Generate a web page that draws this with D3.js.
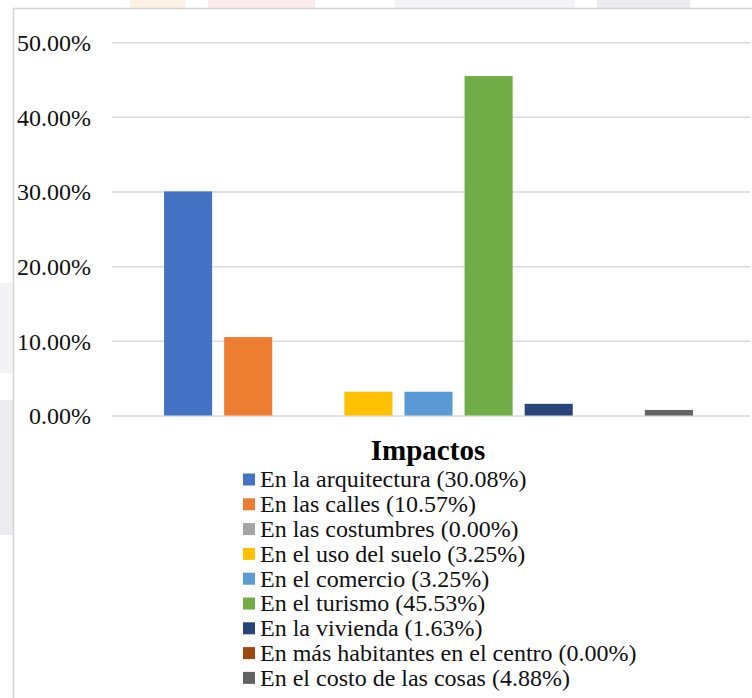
<!DOCTYPE html>
<html>
<head>
<meta charset="utf-8">
<script src="https://cdn.jsdelivr.net/npm/d3@7"></script>
<style>
  body { margin: 0; background: #fff; }
  svg text { font-family: "Liberation Serif", "Times New Roman", Times, "DejaVu Serif", serif; }
</style>
</head>
<body>
<svg width="752" height="698"></svg>
<script>
// categories (one bar per series, as in the source chart)
let categories = [
    "En la arquitectura", "En las calles", "En las costumbres", "En el uso del suelo",
    "En el comercio", "En el turismo", "En la vivienda",
    "En más habitantes en el centro", "En el costo de las cosas"
];
// bar heights (%)
let values = [30.08, 10.57, 0, 3.25, 3.25, 45.53, 1.63, 0, 0.81];
// legend labels as printed
let legendLabels = [
    "En la arquitectura (30.08%)", "En las calles (10.57%)", "En las costumbres (0.00%)",
    "En el uso del suelo (3.25%)", "En el comercio (3.25%)", "En el turismo (45.53%)",
    "En la vivienda (1.63%)", "En más habitantes en el centro (0.00%)",
    "En el costo de las cosas (4.88%)"
];
let colors = ["#4472C4", "#ED7D31", "#A5A5A5", "#FFC000", "#5B9BD5", "#70AD47", "#264478", "#9E480E", "#636363"];
let yTicks = [0, 10, 20, 30, 40, 50];

let serif = "'Liberation Serif', 'Times New Roman', Times, 'DejaVu Serif', serif";
let svg = d3.select("svg");

// faint scan background bits outside the frame
let bg = [
    {x: 130, y: 0, w: 55, h: 8, c: "#fdf1e4"},
    {x: 208, y: 0, w: 107, h: 8, c: "#fbeaec"},
    {x: 395, y: 0, w: 180, h: 8, c: "#f4f4f6"},
    {x: 597, y: 0, w: 93, h: 8, c: "#ebebf0"},
    {x: 0, y: 283, w: 13, h: 90, c: "#f3f3f6"},
    {x: 0, y: 400, w: 13, h: 135, c: "#ececf0"}
];
svg.selectAll(".bg").data(bg).enter().append("rect")
    .attr("x", d => d.x).attr("y", d => d.y)
    .attr("width", d => d.w).attr("height", d => d.h)
    .attr("fill", d => d.c);

// frame
svg.append("path")
    .attr("d", "M13.5,698V8.5H752")
    .attr("fill", "none")
    .attr("stroke", "#d4d4d4")
    .attr("stroke-width", 1.5);

let y = d3.scaleLinear().domain([0, 50]).range([416, 42.7]);
let x = d3.scaleBand()
    .domain(categories)
    .range([112, 745])
    .paddingInner(0.2)
    .paddingOuter(0.866);

// gridlines
svg.selectAll(".grid").data(yTicks).enter().append("line")
    .attr("x1", 112).attr("x2", 750)
    .attr("y1", d => y(d)).attr("y2", d => y(d))
    .attr("stroke", "#d9d9d9")
    .attr("stroke-width", 1.5);

// y axis labels
svg.selectAll(".ylab").data(yTicks).enter().append("text")
    .attr("x", 91)
    .attr("y", d => y(d))
    .attr("dy", "0.34em")
    .attr("text-anchor", "end")
    .attr("font-family", serif)
    .attr("font-size", 24)
    .attr("fill", "#111")
    .text(d => d3.format(".2f")(d) + "%");

// bars
svg.selectAll(".bar").data(categories).enter().append("rect")
    .attr("x", d => x(d))
    .attr("width", x.bandwidth())
    .attr("y", (d, i) => y(values[i]))
    .attr("height", (d, i) => y(0) - y(values[i]) - 0.5)
    .attr("fill", (d, i) => colors[i]);

// legend
svg.append("text")
    .attr("x", 428)
    .attr("y", 459.5)
    .attr("text-anchor", "middle")
    .attr("font-family", serif)
    .attr("font-size", 29)
    .attr("font-weight", "bold")
    .attr("fill", "#000")
    .text("Impactos");

let legend = svg.selectAll(".leg").data(legendLabels).enter().append("g")
    .attr("transform", (d, i) => `translate(243,${473.5 + i * 24.8})`);
legend.append("rect")
    .attr("width", 12).attr("height", 12)
    .attr("fill", (d, i) => colors[i]);
legend.append("text")
    .attr("x", 17)
    .attr("y", 13.8)
    .attr("font-family", serif)
    .attr("font-size", 24)
    .attr("fill", "#111")
    .text(d => d);
</script>
</body>
</html>
